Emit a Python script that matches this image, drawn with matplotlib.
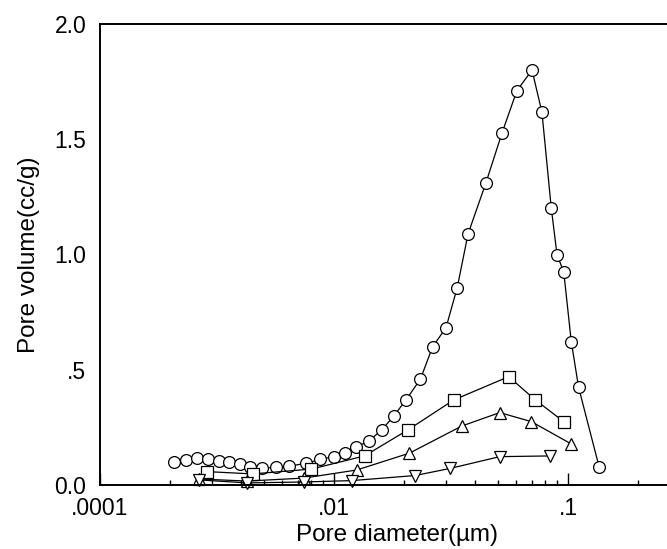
import matplotlib.pyplot as plt
from matplotlib.ticker import LogLocator, NullFormatter

# pore size distribution
d_circle = [0.00207, 0.00233, 0.0026, 0.00289, 0.00322, 0.00357, 0.00398, 0.00439,
            0.00492, 0.00565, 0.00644, 0.00759, 0.00874, 0.00997, 0.0111, 0.0124,
            0.0141, 0.016, 0.018, 0.0203, 0.0234, 0.0264, 0.0301, 0.0336, 0.0374,
            0.0446, 0.0522, 0.0605, 0.0702, 0.0774, 0.0848, 0.0898, 0.0959, 0.1033,
            0.111, 0.136]
v_circle = [0.098, 0.108, 0.116, 0.111, 0.105, 0.101, 0.090, 0.079,
            0.072, 0.077, 0.082, 0.094, 0.111, 0.123, 0.138, 0.164,
            0.191, 0.239, 0.299, 0.369, 0.459, 0.600, 0.682, 0.855, 1.089,
            1.311, 1.526, 1.711, 1.800, 1.617, 1.203, 0.998, 0.925, 0.622,
            0.424, 0.077]

d_square = [0.00287, 0.00449, 0.0080, 0.0135, 0.0207, 0.0325, 0.0558, 0.0725, 0.0959]
v_square = [0.058, 0.048, 0.069, 0.126, 0.239, 0.369, 0.470, 0.369, 0.275]

d_tri_up = [0.00265, 0.00425, 0.00744, 0.0125, 0.0210, 0.0352, 0.0511, 0.0697, 0.1033]
v_tri_up = [0.026, 0.017, 0.030, 0.065, 0.138, 0.256, 0.314, 0.275, 0.178]

d_tri_dn = [0.00265, 0.00425, 0.00742, 0.0119, 0.0222, 0.0314, 0.0511, 0.0835]
v_tri_dn = [0.022, 0.009, 0.013, 0.019, 0.041, 0.072, 0.123, 0.126]

x_ticks = [0.001, 0.01, 0.1]
x_ticklabels = [".0001", ".01", ".1"]
y_ticks = [0, 0.5, 1.0, 1.5, 2.0]
y_ticklabels = ["0.0", ".5", "1.0", "1.5", "2.0"]

plt.rcParams['font.family'] = ['Liberation Sans', 'DejaVu Sans']

fig = plt.figure(figsize=(6.67, 5.49), dpi=100)
ax = fig.add_axes([0.15, 0.1166, 0.85, 0.8397])

style = dict(color='black', lw=0.9, mfc='white', mec='black', mew=0.9, clip_on=False)
ax.plot(d_circle, v_circle, marker='o', ms=8.5, **style)
ax.plot(d_square, v_square, marker='s', ms=8, **style)
ax.plot(d_tri_up, v_tri_up, marker='^', ms=8, **style)
ax.plot(d_tri_dn, v_tri_dn, marker='v', ms=8, **style)

ax.set_xscale('log')
ax.set_xlim(0.001, 0.265)
ax.set_ylim(0, 2.0)

ax.set_xticks(x_ticks)
ax.set_xticklabels(x_ticklabels)
ax.xaxis.set_minor_locator(LogLocator(base=10, subs=range(2, 10)))
ax.xaxis.set_minor_formatter(NullFormatter())
ax.set_yticks(y_ticks)
ax.set_yticklabels(y_ticklabels)

ax.tick_params(axis='x', which='major', direction='in', length=8.6, width=1, pad=9, labelsize=16.5)
ax.tick_params(axis='x', which='minor', direction='in', length=3.6, width=1)
ax.tick_params(axis='y', length=0, pad=10, labelsize=16.5)

ax.spines['right'].set_visible(False)
for s in ['left', 'top', 'bottom']:
    ax.spines[s].set_linewidth(1.4)

ax.set_xlabel("Pore diameter(\u00b5m)", fontsize=17.5, labelpad=0)
ax.xaxis.set_label_coords(0.524, -0.085)
ax.set_ylabel("Pore volume(cc/g)", fontsize=17.5, labelpad=10)

fig.savefig("out.png", dpi=100)
